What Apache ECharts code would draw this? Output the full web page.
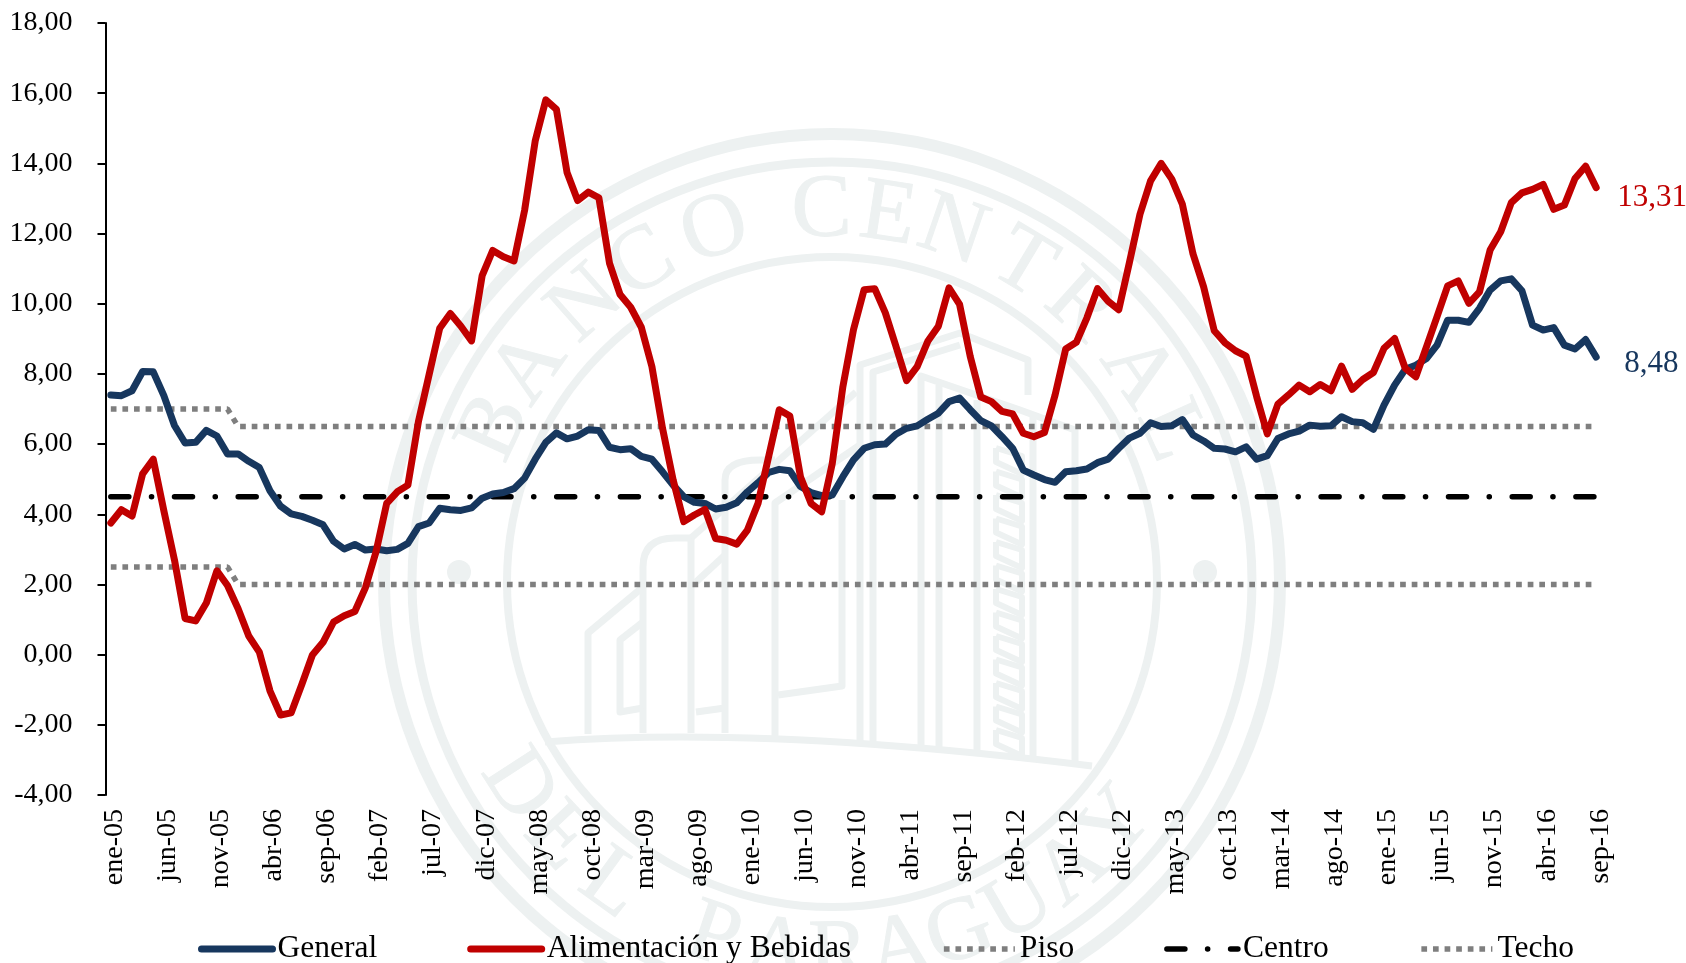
<!DOCTYPE html>
<html><head><meta charset="utf-8">
<style>html,body{margin:0;padding:0;background:#fff}#c{width:1686px;height:963px}</style>
<script src="https://cdn.jsdelivr.net/npm/echarts@6/dist/echarts.min.js"></script>
</head><body><div id="c"></div>
<script>
const categorias = ['ene-05','feb-05','mar-05','abr-05','may-05','jun-05','jul-05','ago-05','sep-05','oct-05','nov-05','dic-05',
'ene-06','feb-06','mar-06','abr-06','may-06','jun-06','jul-06','ago-06','sep-06','oct-06','nov-06','dic-06',
'ene-07','feb-07','mar-07','abr-07','may-07','jun-07','jul-07','ago-07','sep-07','oct-07','nov-07','dic-07',
'ene-08','feb-08','mar-08','abr-08','may-08','jun-08','jul-08','ago-08','sep-08','oct-08','nov-08','dic-08',
'ene-09','feb-09','mar-09','abr-09','may-09','jun-09','jul-09','ago-09','sep-09','oct-09','nov-09','dic-09',
'ene-10','feb-10','mar-10','abr-10','may-10','jun-10','jul-10','ago-10','sep-10','oct-10','nov-10','dic-10',
'ene-11','feb-11','mar-11','abr-11','may-11','jun-11','jul-11','ago-11','sep-11','oct-11','nov-11','dic-11',
'ene-12','feb-12','mar-12','abr-12','may-12','jun-12','jul-12','ago-12','sep-12','oct-12','nov-12','dic-12',
'ene-13','feb-13','mar-13','abr-13','may-13','jun-13','jul-13','ago-13','sep-13','oct-13','nov-13','dic-13',
'ene-14','feb-14','mar-14','abr-14','may-14','jun-14','jul-14','ago-14','sep-14','oct-14','nov-14','dic-14',
'ene-15','feb-15','mar-15','abr-15','may-15','jun-15','jul-15','ago-15','sep-15','oct-15','nov-15','dic-15',
'ene-16','feb-16','mar-16','abr-16','may-16','jun-16','jul-16','ago-16','sep-16'];

const general = [7.40,7.38,7.52,8.07,8.06,7.38,6.53,6.03,6.05,6.39,6.23,5.72,
5.72,5.51,5.33,4.67,4.23,4.01,3.94,3.83,3.70,3.23,3.01,3.14,
2.98,3.01,2.96,3.00,3.17,3.65,3.75,4.17,4.13,4.11,4.18,4.46,
4.58,4.62,4.73,5.03,5.57,6.05,6.32,6.15,6.23,6.41,6.39,5.91,
5.84,5.87,5.65,5.57,5.21,4.83,4.50,4.34,4.31,4.15,4.20,4.33,
4.64,4.90,5.19,5.28,5.24,4.79,4.62,4.53,4.55,5.07,5.55,5.88,
5.98,6.00,6.28,6.45,6.52,6.71,6.88,7.21,7.31,6.98,6.67,6.52,
6.21,5.88,5.26,5.12,4.99,4.91,5.21,5.24,5.29,5.47,5.57,5.88,
6.17,6.31,6.61,6.50,6.52,6.70,6.26,6.09,5.88,5.86,5.78,5.92,
5.57,5.67,6.16,6.29,6.37,6.54,6.51,6.52,6.78,6.64,6.61,6.42,
7.11,7.68,8.13,8.25,8.44,8.82,9.53,9.53,9.47,9.87,10.39,10.65,
10.71,10.37,9.39,9.25,9.32,8.82,8.71,8.98,8.48];

const alimentos = [3.75,4.13,3.95,5.15,5.57,4.10,2.70,1.03,0.96,1.47,2.39,1.97,
1.31,0.53,0.07,-1.03,-1.72,-1.66,-0.85,-0.01,0.35,0.93,1.11,1.23,
1.91,2.93,4.31,4.64,4.83,6.65,7.98,9.30,9.72,9.36,8.94,10.80,
11.52,11.34,11.22,12.66,14.64,15.81,15.54,13.74,12.94,13.18,13.02,11.16,
10.26,9.90,9.33,8.21,6.45,4.98,3.79,3.98,4.14,3.31,3.26,3.15,
3.55,4.31,5.64,6.98,6.80,5.07,4.31,4.07,5.45,7.64,9.26,10.40,
10.43,9.74,8.79,7.81,8.21,8.93,9.36,10.45,9.98,8.50,7.34,7.21,
6.93,6.86,6.31,6.21,6.33,7.40,8.71,8.90,9.60,10.43,10.07,9.83,
11.17,12.55,13.50,14.00,13.55,12.83,11.42,10.48,9.23,8.89,8.66,8.51,
7.35,6.29,7.14,7.40,7.68,7.49,7.70,7.52,8.22,7.56,7.84,8.04,
8.73,9.01,8.16,7.92,8.77,9.63,10.51,10.65,10.01,10.34,11.53,12.05,
12.88,13.16,13.26,13.40,12.69,12.81,13.57,13.92,13.31];

// Meta: techo 7 y piso 2,5 hasta dic-05; luego 6,5 y 2
const piso   = categorias.map((c,i)=> i<12 ? 2.5 : 2.0);
const centro = categorias.map(()=> 4.5);
const techo  = categorias.map((c,i)=> i<12 ? 7.0 : 6.5);

const FONT = '"Liberation Serif", serif';
const WM = '#edf1f1';

// Watermark (decorative seal)
const cx = 832, cy = 582;
const ring = (r,w)=>({type:'circle',silent:true,z:0,shape:{cx,cy,r},style:{fill:'none',stroke:WM,lineWidth:w}});
const dot  = (x,y,r)=>({type:'circle',silent:true,z:0,shape:{cx:x,cy:y,r},style:{fill:WM}});
const poly = (pts,w)=>({type:'polyline',silent:true,z:0,shape:{points:pts},style:{fill:'none',stroke:WM,lineWidth:w||7,lineJoin:'round'}});
const quad = (x1,y1,cpx1,cpy1,x2,y2,w)=>({type:'bezierCurve',silent:true,z:0,shape:{x1,y1,cpx1,cpy1,x2,y2},style:{fill:'none',stroke:WM,lineWidth:w||7}});
const letter = (ch,x,y,rot)=>({type:'text',silent:true,z:0,x,y,rotation:rot,originX:0,originY:0,
  style:{text:ch,fill:WM,stroke:WM,lineWidth:1,font:'90px "Liberation Serif", serif',align:'center',verticalAlign:'middle'}});
const wm = [ring(448,12),ring(420,9),ring(325,8),dot(459,572,12),dot(1205,572,12)];
const topLetters = [['B',-65.4],['A',-54.7],['N',-41.6],['C',-30.8],['O',-18.4],['C',-1.6],['E',8.7],['N',19],['T',31],['R',42],['A',55.5],['L',66]];
topLetters.forEach(([ch,a])=>{
  const t=a*Math.PI/180, r=370;
  wm.push(letter(ch,cx+r*Math.sin(t),cy-r*Math.cos(t),-t));
});
const botLetters = [['D',-57],['E',-47],['L',-36],['P',-18.5],['A',-8.5],['R',1],['A',10.5],['G',20],['U',30],['A',40],['Y',49.5]];
botLetters.forEach(([ch,a])=>{
  const t=a*Math.PI/180, r=375;
  wm.push(letter(ch,cx+r*Math.sin(t),cy+r*Math.cos(t),t));
});
wm.push(quad(545,742,760,725,1092,766));
wm.push(poly([[588,734],[588,633],[643,587]]));
wm.push(poly([[643,733],[643,567]]));
wm.push(quad(643,567,643,538,675,538));
wm.push(poly([[675,538],[691,538],[691,733]]));
wm.push(poly([[691,538],[856,392]]));
wm.push(poly([[643,622],[620,640],[620,712],[643,708]]));
wm.push(poly([[696,582],[725,555]]));
wm.push(poly([[696,712],[725,708]]));
wm.push(poly([[725,733],[725,480]]));
wm.push(quad(725,480,725,460,760,460));
wm.push(poly([[760,460],[775,460]]));
wm.push(poly([[775,736],[775,503],[860,445]]));
wm.push(poly([[778,695],[842,686],[842,500]]));
wm.push(poly([[860,742],[860,365],[960,333],[1028,360],[1028,395]]));
wm.push(poly([[873,742],[873,372],[960,345]]));
wm.push(poly([[921,746],[921,376],[1020,410],[1075,430],[1075,762]]));
wm.push(poly([[939,748],[939,385]]));
wm.push(poly([[977,750],[977,400]]));
wm.push(poly([[1033,757],[1033,415]]));
for(let k=0;k<13;k++){
  const y=448+k*23.5;
  wm.push(poly([[996,y],[996,y+14],[1022,y+26],[1022,y+8],[996,y]],6));
}

const fmtEnd = p=>{const v=Array.isArray(p.value)?p.value[1]:p.value;return String(v).replace('.',',');};

const chart = echarts.init(document.getElementById('c'),null,{renderer:'canvas'});
chart.setOption({
  animation:false,
  backgroundColor:'#fff',
  textStyle:{fontFamily:FONT},
  graphic:{elements:wm},
  grid:{left:105.5,top:23,width:1496,height:772,containLabel:false},
  legend:{
    left:193,top:928,itemWidth:71,itemHeight:14,itemGap:90,
    textStyle:{fontFamily:FONT,fontSize:31.5,color:'#000'},
    itemStyle:{opacity:0},
    lineStyle:{width:'inherit',type:'inherit',cap:'inherit',join:'inherit',color:'inherit'},
    data:['General','Alimentación y Bebidas','Piso','Centro','Techo']
  },
  xAxis:{
    type:'category',data:categorias,boundaryGap:true,
    axisLine:{show:false},axisTick:{show:false},splitLine:{show:false},
    axisLabel:{interval:4,rotate:90,margin:14,fontFamily:FONT,fontSize:28,color:'#000',
      formatter:v=>`{a|${v}}`,
      rich:{a:{fontFamily:FONT,fontSize:28,color:'#000',padding:[8,0,0,0]}}}
  },
  yAxis:{
    type:'value',min:-4,max:18,interval:2,
    axisLine:{show:true,lineStyle:{color:'#000',width:2}},
    axisTick:{show:true,length:8,lineStyle:{color:'#000',width:2}},
    splitLine:{show:false},
    axisLabel:{margin:33,fontFamily:FONT,fontSize:28,color:'#000',
      formatter:v=>v.toFixed(2).replace('.',',')}
  },
  series:[
    {name:'Piso',type:'line',data:piso,symbol:'none',z:2,color:'#7f7f7f',
      lineStyle:{color:'#7f7f7f',width:5.5,type:[5.7,5.9],cap:'butt'}},
    {name:'Techo',type:'line',data:techo,symbol:'none',z:2,color:'#7f7f7f',
      lineStyle:{color:'#7f7f7f',width:5.5,type:[5.7,5.9],cap:'butt'}},
    {name:'Centro',type:'line',data:centro,symbol:'none',z:2,color:'#000',
      lineStyle:{color:'#000',width:5.5,type:[18,22.7,0.1,22.9],cap:'round'}},
    {name:'General',type:'line',data:general,symbol:'none',z:3,color:'#17375e',
      lineStyle:{color:'#17375e',width:7,cap:'round',join:'round'},
      endLabel:{show:true,distance:5,offset:[23,7],align:'left',fontFamily:FONT,fontSize:31,color:'#17375e',formatter:fmtEnd}},
    {name:'Alimentación y Bebidas',type:'line',data:alimentos,symbol:'none',z:4,color:'#c00000',
      lineStyle:{color:'#c00000',width:7,cap:'round',join:'round'},
      endLabel:{show:true,distance:5,offset:[16,10],align:'left',fontFamily:FONT,fontSize:31,color:'#c00000',formatter:fmtEnd}}
  ]
});
</script></body></html>
